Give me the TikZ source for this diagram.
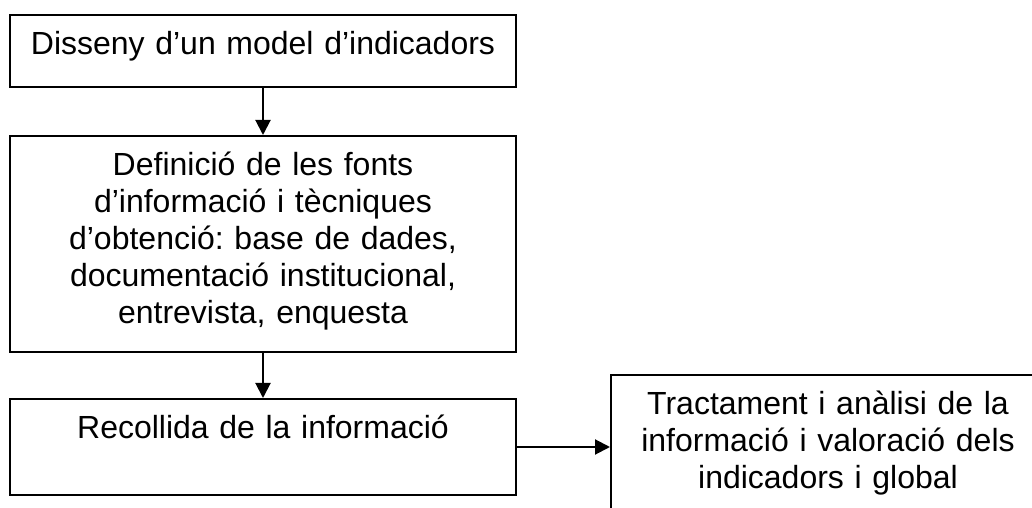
\documentclass[tikz,border=0pt]{standalone}
\usepackage{fontspec}
\setmainfont{Liberation Sans}
\usepackage{tikz}
\usetikzlibrary{arrows.meta}
\frenchspacing

\begin{document}
\begin{tikzpicture}[
    kasten/.style={draw, line width=0.05cm, rectangle, anchor=north,
        align=center, inner xsep=0.2cm, inner ysep=0.2cm, text height=0.8cm,
        font=\fontsize{22.76pt}{26.2pt}\selectfont},
    pfeil/.style={line width=0.05cm, -{Triangle[length=0.375cm, width=0.375cm]}}
    ]
    % Rahmen des Bildes
    \useasboundingbox (0,0) rectangle (25.8,12.7);

    % Kaesten der einzelnen Schritte
    \node[kasten, text width=12.25cm, text depth=0.6cm] (model) at (6.575,12.35)
    {Disseny d’un model d’indicadors};
    \node[kasten, text width=12.25cm, text depth=4.2cm] (fonts) at (6.575,9.325)
    {Definició de les fonts\\ d’informació i tècniques\\ d’obtenció: base de dades,\\
    documentació institucional,\\ entrevista, enquesta};
    \node[kasten, text width=12.25cm, text depth=1.2cm] (recollida) at (6.575,2.75)
    {Recollida de la informació};
    \node[kasten, text width=10.45cm, text depth=2.45cm] (tractament) at (20.7,3.35)
    {Tractament i anàlisi de la\\ informació i valoració dels\\ indicadors i global};

    % Pfeile zwischen den Kaesten
    \draw[pfeil] (model) -- (fonts);
    \draw[pfeil] (fonts) -- (recollida);
    \draw[pfeil] (recollida.east) -- (recollida.east -| tractament.west);

\end{tikzpicture}
\end{document}
